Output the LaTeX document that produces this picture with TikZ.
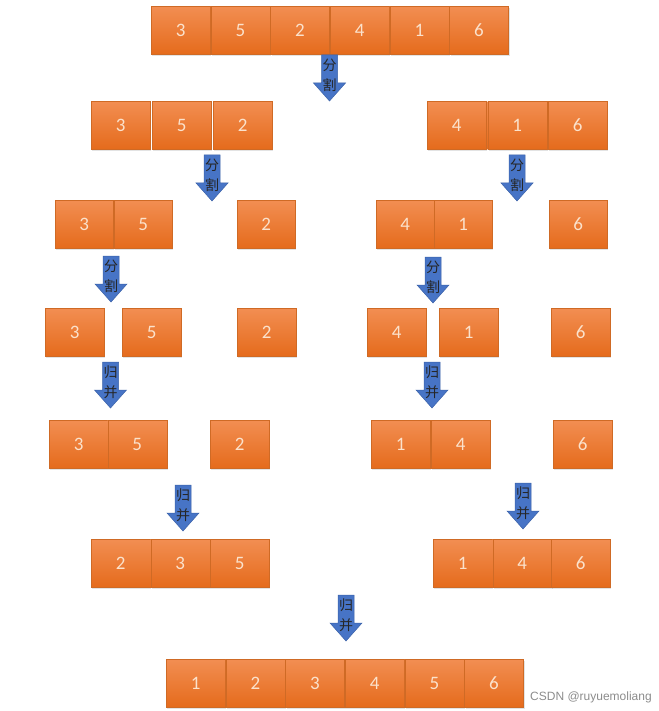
\documentclass[tikz,border=0pt]{standalone}
\usepackage{fontspec}
\setmainfont{Carlito}
\newfontfamily\cjk{Noto Sans CJK SC}
\newfontfamily\markfont{Liberation Sans}
\usetikzlibrary{shadows}

\definecolor{cellTop}{HTML}{F28E52}
\definecolor{cellBot}{HTML}{E56B1C}
\definecolor{cellEdge}{HTML}{CF6A25}
\definecolor{cellText}{HTML}{FBE2CC}
\definecolor{arrowBlue}{HTML}{4774C6}
\definecolor{arrowEdge}{HTML}{3B62A8}

% block arrow: name, centre x, top y, two lines of text
\newcommand{\blockarrow}[4]{%
	\filldraw[fill=arrowBlue, draw=arrowEdge, line width=0.5pt] (#2-8,#3) -- (#2+8,#3) -- (#2+8,#3+28) -- (#2+16,#3+28) -- (#2,#3+46) -- (#2-16,#3+28) -- (#2-8,#3+28) -- cycle;
	\node[tag] (#1) at (#2,#3+20) {#4};
}

\begin{document}
\begin{tikzpicture}[x=1pt,y=-1pt]
	\tikzstyle{every node}=[font=\fontsize{19pt}{23pt}\selectfont]
	\tikzstyle{cell}=[draw=cellEdge, line width=0.4pt, top color=cellTop, bottom color=cellBot, text=cellText, minimum width=59pt, minimum height=48pt, inner sep=0pt, anchor=north west, drop shadow={opacity=0.22, shadow xshift=1pt, shadow yshift=-1.5pt}]
	\tikzstyle{tag}=[font=\cjk\fontsize{14pt}{20pt}\selectfont, text=black!85, align=center, inner sep=0pt]
	
	\useasboundingbox (0,0) rectangle (658,711);
	
	% row 1
	\foreach \x/\v [count=\i] in {151/3,210.7/5,270.3/2,330/4,389.7/1,449.3/6}
		\node[cell] (ra\i) at (\x,6) {\v};
	
	% row 2
	\foreach \x/\v [count=\i] in {91/3,152/5,213/2,427/4,487.5/1,548/6}
		\node[cell] (rb\i) at (\x,101) {\v};
	
	% row 3
	\foreach \x/\v [count=\i] in {55/3,114/5,237/2,376/4,434/1,549/6}
		\node[cell, minimum width=58pt] (rc\i) at (\x,200) {\v};
	
	% row 4
	\foreach \x/\v [count=\i] in {45/3,122/5,237/2,367/4,439/1,551/6}
		\node[cell] (rd\i) at (\x,308) {\v};
	
	% row 5
	\foreach \x/\v [count=\i] in {49/3,107.5/5,210/2,371/1,431/4,553/6}
		\node[cell] (re\i) at (\x,420) {\v};
	
	% row 6
	\foreach \x/\v [count=\i] in {91/2,150.5/3,210/5,433/1,492.5/4,551/6}
		\node[cell] (rf\i) at (\x,539) {\v};
	
	% row 7
	\foreach \x/\v [count=\i] in {166/1,225.7/2,285.3/3,345/4,404.7/5,464.3/6}
		\node[cell] (rg\i) at (\x,659) {\v};
	
	% split arrows
	\blockarrow{sa}{329.5}{55}{分\\割}
	\blockarrow{sbl}{212}{155}{分\\割}
	\blockarrow{sbr}{517}{155}{分\\割}
	\blockarrow{scl}{111}{256}{分\\割}
	\blockarrow{scr}{433}{257}{分\\割}
	
	% merge arrows
	\blockarrow{mdl}{110.5}{362}{归\\并}
	\blockarrow{mdr}{432}{362}{归\\并}
	\blockarrow{mel}{183}{485}{归\\并}
	\blockarrow{mer}{523}{483}{归\\并}
	\blockarrow{mf}{346}{595}{归\\并}
	
	\node[font=\markfont\fontsize{12pt}{14pt}\selectfont, text=black!45, anchor=west, inner sep=0pt] (mark) at (530,697) {CSDN @ruyuemoliang};
	
\end{tikzpicture}
\end{document}
